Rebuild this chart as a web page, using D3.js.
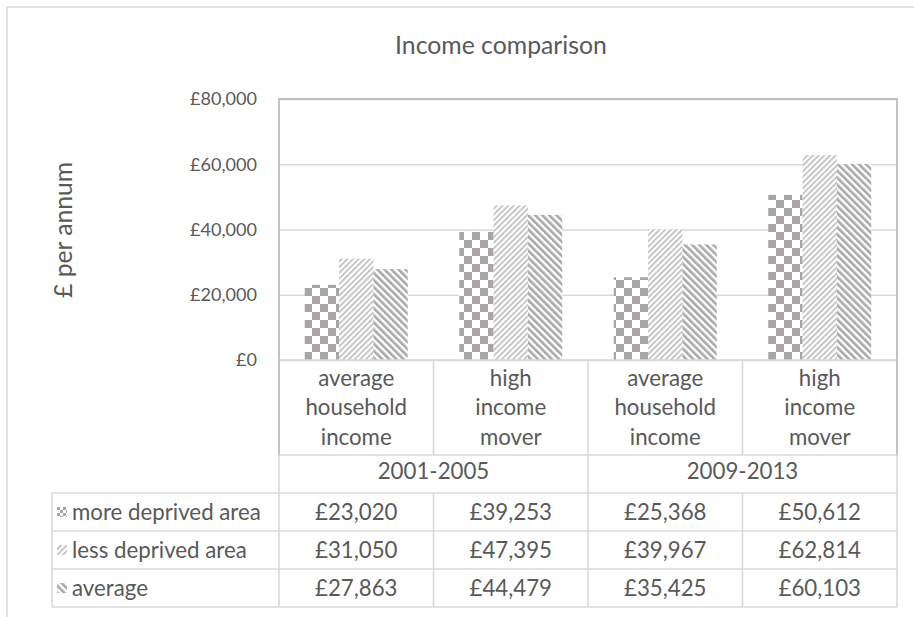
<!DOCTYPE html>
<html><head><meta charset="utf-8">
<script src="https://cdn.jsdelivr.net/npm/d3@7"></script>
<style>html,body{margin:0;padding:0;background:#fff;}</style>
</head><body>
<script>
const periods = ["2001-2005", "2009-2013"];
const categories = ["average household income", "high income mover"];
const seriesNames = ["more deprived area", "less deprived area", "average"];
const moreDeprived = [23020, 39253, 25368, 50612];
const lessDeprived = [31050, 47395, 39967, 62814];
const averageIncome = [27863, 44479, 35425, 60103];
const yTicks = [0, 20000, 40000, 60000, 80000];
const title = "Income comparison";
const yTitle = "£ per annum";

const seriesValues = [moreDeprived, lessDeprived, averageIncome];
const columns = [];
periods.forEach(p => categories.forEach(c => columns.push(p + "|" + c)));

const W = 914, H = 617;
const FONT = "Lato, 'Open Sans', sans-serif";
const TXT = "#595959";
const LINE = "#d9d9d9";
const svg = d3.select("body").append("svg").attr("width", W).attr("height", H);

function fit(str, target) {
  const t = svg.append("text").attr("font-family", FONT).attr("font-size", 100).text(str);
  const w = t.node().getComputedTextLength(); t.remove();
  return 100 * target / w;
}
const fsTitle = fit("Income comparison", 212);
const fsTick = fit("£80,000", 67);
const fsYT = fit("£ per annum", 136);
const fsTab = fit("more deprived area", 189);

// patterns
const defs = svg.append("defs");
const pc = defs.append("pattern").attr("id", "p0").attr("patternUnits", "userSpaceOnUse").attr("width", 16).attr("height", 16);
pc.append("rect").attr("width", 16).attr("height", 16).attr("fill", "#fff");
pc.append("rect").attr("width", 8).attr("height", 8).attr("fill", "#a9a5a5");
pc.append("rect").attr("x", 8).attr("y", 8).attr("width", 8).attr("height", 8).attr("fill", "#a9a5a5");
const p1 = defs.append("pattern").attr("id", "p1").attr("patternUnits", "userSpaceOnUse").attr("width", 4).attr("height", 4).attr("patternTransform", "rotate(45)");
p1.append("rect").attr("width", 4).attr("height", 4).attr("fill", "#fff");
p1.append("rect").attr("width", 1.5).attr("height", 4).attr("fill", "#b8b6b6");
const p2 = defs.append("pattern").attr("id", "p2").attr("patternUnits", "userSpaceOnUse").attr("width", 5).attr("height", 5).attr("patternTransform", "rotate(-45)");
p2.append("rect").attr("width", 5).attr("height", 5).attr("fill", "#fff");
p2.append("rect").attr("width", 2.6).attr("height", 5).attr("fill", "#aaa8a8");
const s0 = defs.append("pattern").attr("id", "s0").attr("patternUnits", "userSpaceOnUse").attr("width", 6).attr("height", 6);
s0.append("rect").attr("width", 6).attr("height", 6).attr("fill", "#fff");
s0.append("rect").attr("width", 3).attr("height", 3).attr("fill", "#a9a5a5");
s0.append("rect").attr("x", 3).attr("y", 3).attr("width", 3).attr("height", 3).attr("fill", "#a9a5a5");
const patterns = ["url(#p0)", "url(#p1)", "url(#p2)"];
const swatches = ["url(#s0)", "url(#p1)", "url(#p2)"];

// outer frame
svg.append("rect").attr("x", 7).attr("y", 7).attr("width", W).attr("height", H).attr("fill", "none").attr("stroke", LINE).attr("stroke-width", 1.5);

const L = 279, R = 897, T = 99, B = 360;
const yCat = 455, yYear = 493, rowH = 38;
const tabL = 52;

const x0 = d3.scaleBand().domain(columns).range([L, R]);
const x1 = d3.scaleBand().domain(seriesNames).range([0, x0.bandwidth()]).paddingOuter(0.75);
const y = d3.scaleLinear().domain([0, 80000]).range([B, T]);

const yAxis = d3.axisLeft(y).tickValues(yTicks).tickSize(-(R - L)).tickFormat(d => "£" + d3.format(",")(d)).tickPadding(22);
const ga = svg.append("g").attr("transform", `translate(${L},0)`).call(yAxis);
ga.select(".domain").remove();
ga.selectAll(".tick line").attr("stroke", LINE).attr("stroke-width", 1.5);
ga.selectAll(".tick text").attr("font-family", FONT).attr("font-size", fsTick).attr("fill", TXT);

seriesNames.forEach((s, si) => {
  svg.append("g").selectAll("rect").data(seriesValues[si]).join("rect")
    .attr("x", (d, i) => x0(columns[i]) + x1(s))
    .attr("y", d => y(d))
    .attr("width", x1.bandwidth())
    .attr("height", d => B - y(d))
    .attr("fill", patterns[si]);
});

svg.append("path").attr("d", `M${L},${yCat}V${T}H${R}V${yCat}`).attr("fill", "none").attr("stroke", "#bcbcbc").attr("stroke-width", 1.8);

const tl = svg.append("g").attr("stroke", LINE).attr("stroke-width", 1.6);
const tableBottom = yYear + 3 * rowH;
[[L, B, R, B], [L, yCat, R, yCat]].forEach(a => tl.append("line").attr("x1", a[0]).attr("y1", a[1]).attr("x2", a[2]).attr("y2", a[3]));
for (let r = 0; r <= 3; r++) tl.append("line").attr("x1", tabL).attr("x2", R).attr("y1", yYear + r * rowH).attr("y2", yYear + r * rowH);
tl.append("line").attr("x1", tabL).attr("x2", tabL).attr("y1", yYear).attr("y2", tableBottom);
tl.append("line").attr("x1", L).attr("x2", L).attr("y1", yCat).attr("y2", tableBottom);
tl.append("line").attr("x1", R).attr("x2", R).attr("y1", yCat).attr("y2", tableBottom);
columns.forEach((c, i) => {
  if (i === 0) return;
  const xx = x0(c);
  if (i === 2) tl.append("line").attr("x1", xx).attr("x2", xx).attr("y1", B).attr("y2", tableBottom);
  else {
    tl.append("line").attr("x1", xx).attr("x2", xx).attr("y1", B).attr("y2", yCat);
    tl.append("line").attr("x1", xx).attr("x2", xx).attr("y1", yYear).attr("y2", tableBottom);
  }
});

const lineGap = 29.5;
columns.forEach(c => {
  const words = c.split("|")[1].split(" ");
  const cx = x0(c) + x0.bandwidth() / 2;
  const cy = (B + yCat) / 2;
  words.forEach((w, k) => {
    svg.append("text").attr("x", cx).attr("y", cy + (k - (words.length - 1) / 2) * lineGap)
      .attr("dy", "0.35em").attr("text-anchor", "middle").attr("font-family", FONT).attr("font-size", fsTab).attr("fill", TXT).text(w);
  });
});
periods.forEach((p, pi) => {
  const cx = L + (R - L) / 4 * (2 * pi + 1);
  svg.append("text").attr("x", cx).attr("y", (yCat + yYear) / 2 - 3).attr("dy", "0.35em").attr("text-anchor", "middle")
    .attr("font-family", FONT).attr("font-size", fsTab).attr("fill", TXT).text(p);
});
const fmt = d => "£" + d3.format(",")(d);
seriesNames.forEach((s, si) => {
  const cy = yYear + si * rowH + rowH / 2;
  svg.append("rect").attr("x", 57).attr("y", cy - 5).attr("width", 10).attr("height", 10).attr("fill", swatches[si]);
  svg.append("text").attr("x", 72).attr("y", cy).attr("dy", "0.35em").attr("font-family", FONT).attr("font-size", fsTab).attr("fill", TXT).text(s);
  seriesValues[si].forEach((v, i) => {
    svg.append("text").attr("x", x0(columns[i]) + x0.bandwidth() / 2).attr("y", cy).attr("dy", "0.35em").attr("text-anchor", "middle")
      .attr("font-family", FONT).attr("font-size", fsTab).attr("fill", TXT).text(fmt(v));
  });
});

svg.append("text").attr("x", 501).attr("y", 45).attr("dy", "0.35em").attr("text-anchor", "middle")
  .attr("font-family", FONT).attr("font-size", fsTitle).attr("fill", TXT).text(title);
svg.append("text").attr("transform", "translate(63,230) rotate(-90)").attr("dy", "0.35em").attr("text-anchor", "middle")
  .attr("font-family", FONT).attr("font-size", fsYT).attr("fill", TXT).text(yTitle);
</script>
</body></html>
